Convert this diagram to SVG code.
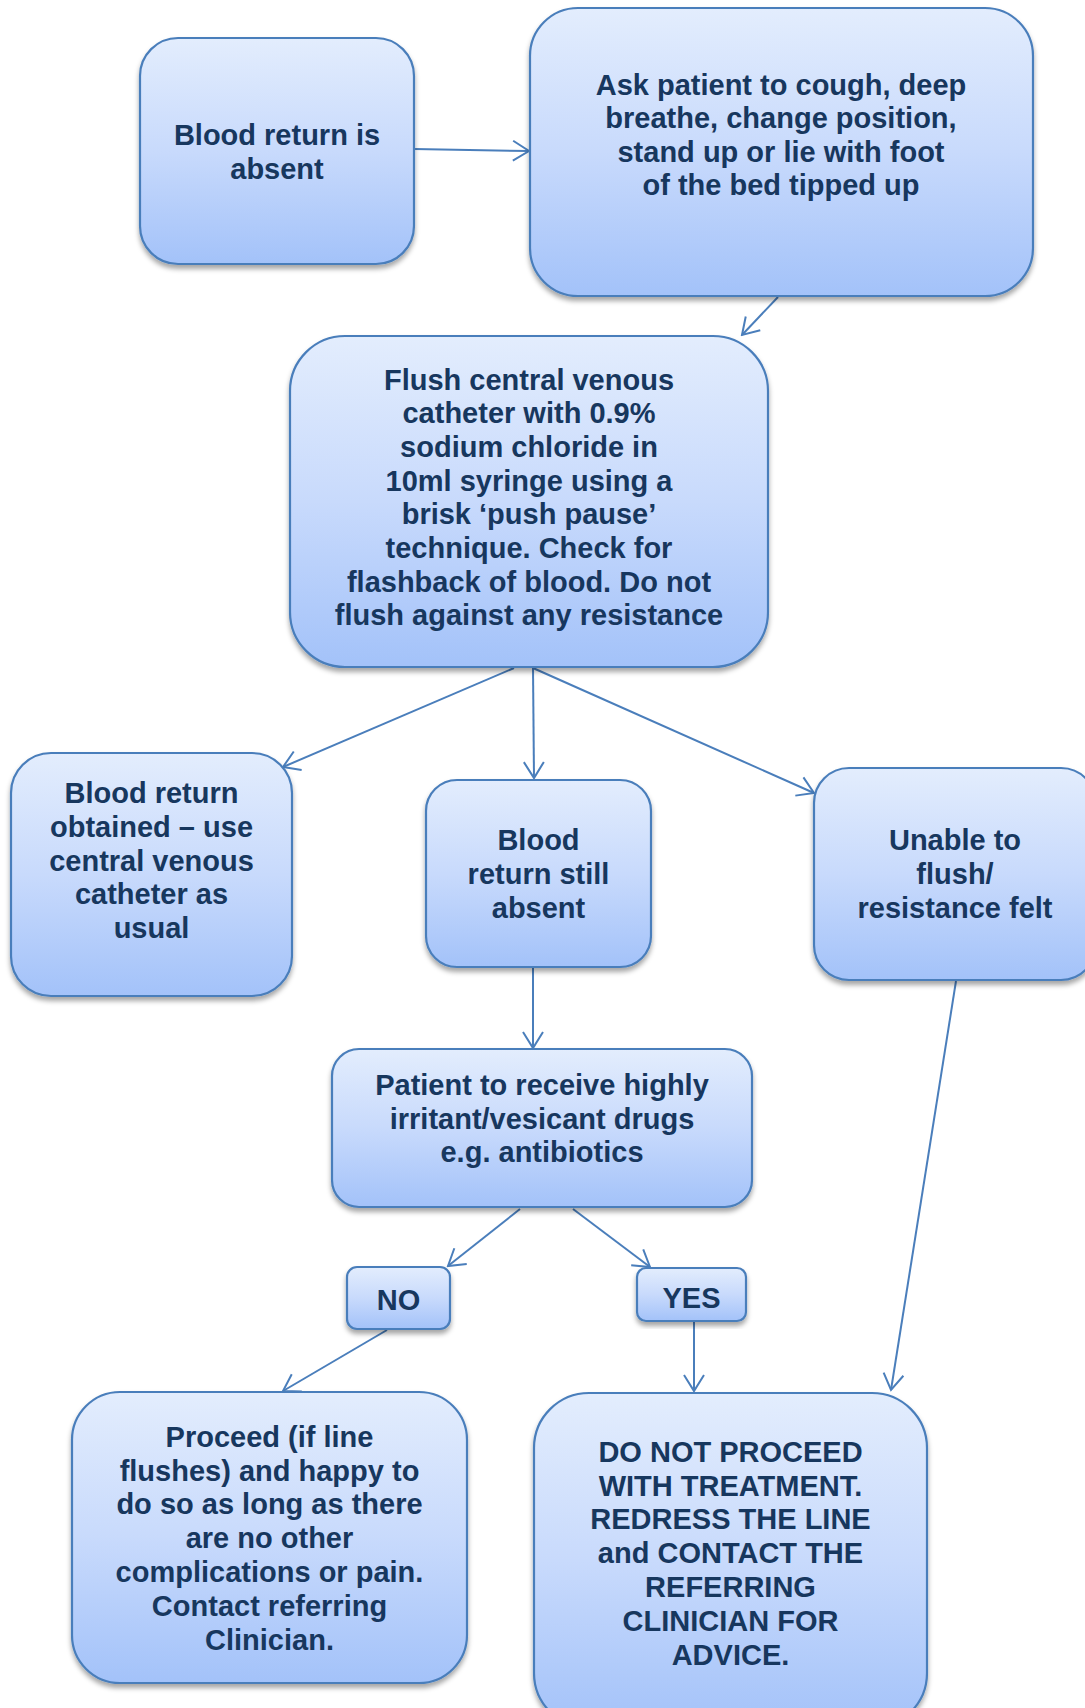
<svg xmlns="http://www.w3.org/2000/svg" width="1085" height="1708" viewBox="0 0 1085 1708">
<defs>
<linearGradient id="g" x1="0" y1="0" x2="0" y2="1">
<stop offset="0" stop-color="#e3edfd"/>
<stop offset="0.5" stop-color="#c8dafc"/>
<stop offset="1" stop-color="#a3c2f9"/>
</linearGradient>
<filter id="sh" x="-10%" y="-10%" width="120%" height="125%">
<feDropShadow dx="0" dy="4" stdDeviation="2.5" flood-color="#000" flood-opacity="0.35"/>
</filter>
<marker id="ar" markerUnits="userSpaceOnUse" viewBox="-18 -12 20 24" refX="0" refY="0" markerWidth="20" markerHeight="24" orient="auto">
<path d="M-16,-10 L0,0 L-16,10" fill="none" stroke="#4a7ebb" stroke-width="2"/>
</marker>
</defs>
<style>
.box{fill:url(#g);stroke:#4a7ebb;stroke-width:2.2;filter:url(#sh)}
.t{font-family:"Liberation Sans",Arial,sans-serif;font-weight:bold;font-size:29px;fill:#17375e;text-anchor:middle}
.c{fill:none;stroke:#4a7ebb;stroke-width:2;marker-end:url(#ar)}
</style>
<g id="connectors">
<line class="c" x1="414" y1="149" x2="529" y2="151"/>
<line class="c" x1="778" y1="297" x2="742" y2="335"/>
<line class="c" x1="514" y1="668" x2="283" y2="767"/>
<line class="c" x1="533" y1="668" x2="534" y2="778"/>
<line class="c" x1="533" y1="668" x2="814" y2="793"/>
<line class="c" x1="533" y1="968" x2="533" y2="1048"/>
<line class="c" x1="520" y1="1209" x2="448" y2="1266"/>
<line class="c" x1="573" y1="1209" x2="650" y2="1267"/>
<line class="c" x1="387" y1="1330" x2="283" y2="1391"/>
<line class="c" x1="694" y1="1321" x2="694" y2="1391"/>
<line class="c" x1="956" y1="981" x2="891" y2="1390"/>
</g>
<g id="n1">
<rect class="box" x="140" y="38" width="274" height="226" rx="38"/>
<text class="t" x="277" y="145">Blood return is</text>
<text class="t" x="277" y="179">absent</text>
</g>
<g id="n2">
<rect class="box" x="530" y="8" width="503" height="288" rx="48"/>
<text class="t" x="781" y="95">Ask patient to cough, deep</text>
<text class="t" x="781" y="128">breathe, change position,</text>
<text class="t" x="781" y="162">stand up or lie with foot</text>
<text class="t" x="781" y="195">of the bed tipped up</text>
</g>
<g id="n3">
<rect class="box" x="290" y="336" width="478" height="331" rx="55"/>
<text class="t" x="529" y="390">Flush central venous</text>
<text class="t" x="529" y="423">catheter with 0.9%</text>
<text class="t" x="529" y="457">sodium chloride in</text>
<text class="t" x="529" y="491">10ml syringe using a</text>
<text class="t" x="529" y="524">brisk ‘push pause’</text>
<text class="t" x="529" y="558">technique. Check for</text>
<text class="t" x="529" y="592">flashback of blood. Do not</text>
<text class="t" x="529" y="625">flush against any resistance</text>
</g>
<g id="n4">
<rect class="box" x="11" y="753" width="281" height="243" rx="40"/>
<text class="t" x="151.5" y="803">Blood return</text>
<text class="t" x="151.5" y="837">obtained – use</text>
<text class="t" x="151.5" y="871">central venous</text>
<text class="t" x="151.5" y="904">catheter as</text>
<text class="t" x="151.5" y="938">usual</text>
</g>
<g id="n5">
<rect class="box" x="426" y="780" width="225" height="187" rx="31"/>
<text class="t" x="538.5" y="850">Blood</text>
<text class="t" x="538.5" y="884">return still</text>
<text class="t" x="538.5" y="918">absent</text>
</g>
<g id="n6">
<rect class="box" x="814" y="768" width="282" height="212" rx="35"/>
<text class="t" x="955" y="850">Unable to</text>
<text class="t" x="955" y="884">flush/</text>
<text class="t" x="955" y="918">resistance felt</text>
</g>
<g id="n7">
<rect class="box" x="332" y="1049" width="420" height="158" rx="27"/>
<text class="t" x="542" y="1095">Patient to receive highly</text>
<text class="t" x="542" y="1129">irritant/vesicant drugs</text>
<text class="t" x="542" y="1162">e.g. antibiotics</text>
</g>
<g id="n8">
<rect class="box" x="347" y="1267" width="103" height="62" rx="10"/>
<text class="t" x="398.5" y="1310">NO</text>
</g>
<g id="n9">
<rect class="box" x="637" y="1268" width="109" height="53" rx="9"/>
<text class="t" x="691.5" y="1308">YES</text>
</g>
<g id="n10">
<rect class="box" x="72" y="1392" width="395" height="291" rx="48"/>
<text class="t" x="269.5" y="1447">Proceed (if line</text>
<text class="t" x="269.5" y="1481">flushes) and happy to</text>
<text class="t" x="269.5" y="1514">do so as long as there</text>
<text class="t" x="269.5" y="1548">are no other</text>
<text class="t" x="269.5" y="1582">complications or pain.</text>
<text class="t" x="269.5" y="1616">Contact referring</text>
<text class="t" x="269.5" y="1650">Clinician.</text>
</g>
<g id="n11">
<rect class="box" x="534" y="1393" width="393" height="335" rx="55"/>
<text class="t" x="730.5" y="1462">DO NOT PROCEED</text>
<text class="t" x="730.5" y="1496">WITH TREATMENT.</text>
<text class="t" x="730.5" y="1529">REDRESS THE LINE</text>
<text class="t" x="730.5" y="1563">and CONTACT THE</text>
<text class="t" x="730.5" y="1597">REFERRING</text>
<text class="t" x="730.5" y="1631">CLINICIAN FOR</text>
<text class="t" x="730.5" y="1665">ADVICE.</text>
</g>
</svg>
